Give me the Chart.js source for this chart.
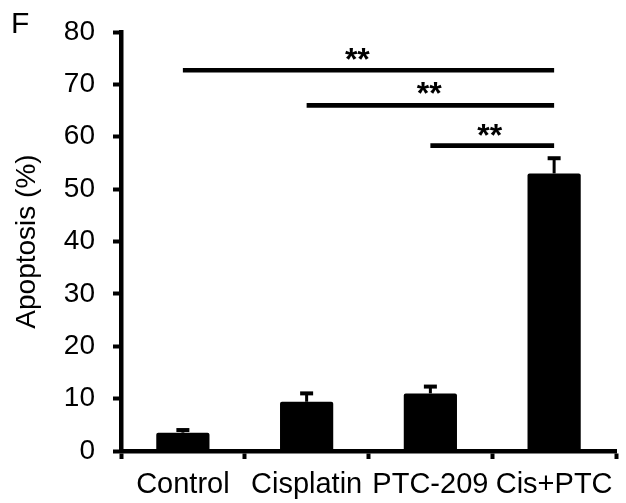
<!DOCTYPE html>
<html>
<head>
<meta charset="utf-8">
<script src="https://cdn.jsdelivr.net/npm/chart.js@4"></script>
<style>
html,body{margin:0;padding:0;background:#fff;}
#wrap{width:626px;height:503px;position:relative;}
</style>
</head>
<body>
<div id="wrap"><canvas id="c" width="626" height="503"></canvas></div>
<script>
const categories = ['Control', 'Cisplatin', 'PTC-209', 'Cis+PTC'];
const values = [3.5, 9.4, 11.0, 53.0];
const errors = [0.5, 1.6, 1.3, 2.9];
const yTicks = [0, 10, 20, 30, 40, 50, 60, 70, 80];
// significance brackets: from category index -> to category index, at height
const sigFrom = [0, 1, 2];
const sigTo = [3, 3, 3];
const sigHeight = [72.7, 66.0, 58.3];
const sigLabel = ['**', '**', '**'];
const sigLabelX = [1.41, 1.99, 2.48];
const sigLabelY = [75.8, 69.2, 61.2];

const FONT = "'Liberation Sans', Arial, sans-serif";

const overlay = {
  id: 'overlay',
  afterDatasetsDraw(chart) {
    const ctx = chart.ctx;
    const x = chart.scales.x, y = chart.scales.y;
    ctx.save();
    ctx.strokeStyle = '#000';
    ctx.fillStyle = '#000';
    // error bars (upper only)
    values.forEach((v, i) => {
      const cx = x.getPixelForValue(i);
      const y0 = y.getPixelForValue(v);
      const y1 = y.getPixelForValue(v + errors[i]);
      ctx.lineWidth = 3;
      ctx.beginPath();
      ctx.moveTo(cx, y0);
      ctx.lineTo(cx, y1);
      ctx.stroke();
      ctx.lineWidth = 4;
      ctx.beginPath();
      ctx.moveTo(cx - 6.5, y1);
      ctx.lineTo(cx + 6.5, y1);
      ctx.stroke();
    });
    // significance lines
    ctx.lineWidth = 4.7;
    sigHeight.forEach((h, k) => {
      const xa = x.getPixelForValue(sigFrom[k]);
      const xb = x.getPixelForValue(sigTo[k]);
      const yy = y.getPixelForValue(h);
      ctx.beginPath();
      ctx.moveTo(xa, yy);
      ctx.lineTo(xb, yy);
      ctx.stroke();
    });
    ctx.textAlign = 'center';
    ctx.textBaseline = 'middle';
    ctx.font = 'bold 32px ' + FONT;
    sigLabel.forEach((t, k) => {
      ctx.fillText(t, x.getPixelForValue(sigLabelX[k]), y.getPixelForValue(sigLabelY[k]) + 7);
    });
    // panel letter
    ctx.textAlign = 'left';
    ctx.textBaseline = 'alphabetic';
    ctx.font = '30px ' + FONT;
    ctx.fillText('F', 11, 33);
    ctx.restore();
  }
};

new Chart(document.getElementById('c'), {
  type: 'bar',
  data: {
    labels: categories,
    datasets: [{
      data: values,
      backgroundColor: '#000',
      borderWidth: 0,
      borderRadius: 2,
      borderSkipped: 'bottom',
      barPercentage: 0.43,
      categoryPercentage: 1.0
    }]
  },
  options: {
    responsive: false,
    animation: false,
    devicePixelRatio: 1,
    layout: { padding: { top: 16, right: 10, left: 0, bottom: 0 } },
    plugins: { legend: { display: false }, tooltip: { enabled: false } },
    scales: {
      x: {
        offset: true,
        grid: { offset: true, drawOnChartArea: false, drawTicks: true, tickLength: 8, tickWidth: 4, color: '#000' },
        border: { display: true, width: 4.5, color: '#000' },
        ticks: { color: '#000', font: { family: FONT, size: 29 }, padding: 9, maxRotation: 0, autoSkip: false },
        afterFit(s) { s.height = 52; }
      },
      y: {
        min: 0, max: 80,
        afterBuildTicks(s) { s.ticks = yTicks.map(v => ({ value: v })); },
        grid: { drawOnChartArea: false, drawTicks: true, tickLength: 8, tickWidth: 4, color: '#000' },
        border: { display: true, width: 4.5, color: '#000' },
        ticks: { color: '#000', font: { family: FONT, size: 28, lineHeight: 1 }, padding: 18 },
        title: { display: true, text: 'Apoptosis (%)', color: '#000', font: { family: FONT, size: 28 }, padding: { top: 10, bottom: 0 } },
        afterFit(s) { s.width = 121; }
      }
    }
  },
  plugins: [overlay]
});
</script>
</body>
</html>
